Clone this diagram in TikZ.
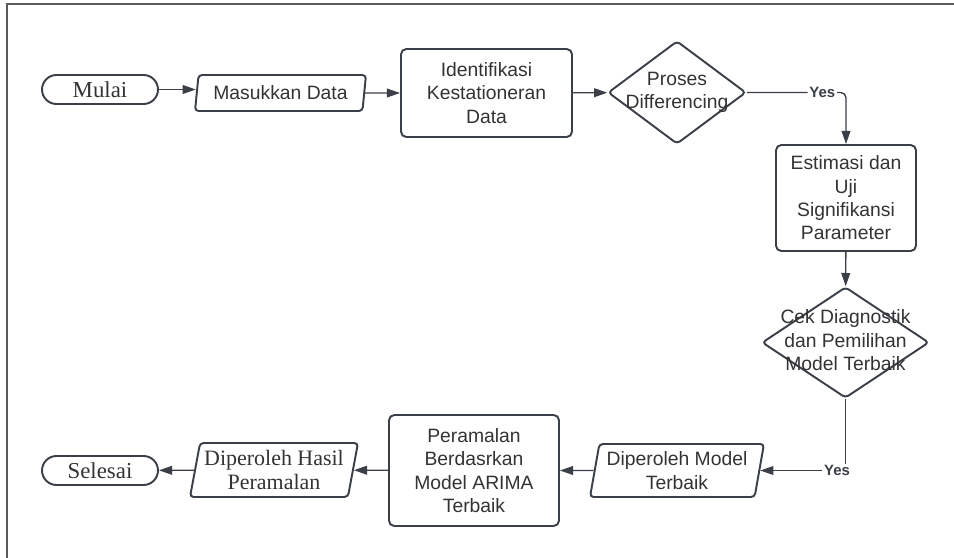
\documentclass[tikz,border=0pt]{standalone}
\usepackage{fontspec}
\setmainfont{Liberation Serif}
\setsansfont{Liberation Sans}
\usetikzlibrary{shapes.geometric,shapes.misc,arrows.meta}
\definecolor{flowline}{RGB}{58,63,72}
\definecolor{flowtext}{RGB}{51,51,51}
\definecolor{framegray}{RGB}{90,90,90}

\begin{document}
\begin{tikzpicture}[x=0.02cm, y=-0.02cm,
  terminal/.style={rounded rectangle, draw=flowline, line width=1.1pt, minimum width=2.32cm, minimum height=0.58cm, inner sep=0pt, text=flowtext, font=\fontsize{13}{14.2}\selectfont},
  inout/.style={trapezium, trapezium left angle=76, trapezium right angle=104, trapezium stretches body, draw=flowline, line width=1.1pt, rounded corners=2pt, inner sep=0pt, align=center, text=flowtext},
  process/.style={rectangle, draw=flowline, line width=1.1pt, rounded corners=3pt, inner sep=0pt, align=center, text=flowtext, font=\sffamily\fontsize{11}{13.3}\selectfont},
  decision/.style={diamond, draw=flowline, line width=1.1pt, rounded corners=2pt, inner sep=0pt, text=flowtext, font=\sffamily\fontsize{11}{13.3}\selectfont},
  arr/.style={draw=flowline, line width=0.8pt, -{Triangle[length=7.5pt,width=5pt]}},
  yes/.style={fill=white, inner sep=1pt, text=flowline, font=\sffamily\bfseries\fontsize{8.5}{10}\selectfont}]

\useasboundingbox (0,0) rectangle (954,558);
% Frame
\draw[framegray, line width=0.8pt] (954,4) -- (7,4) -- (7,558);

% Top row
\node[terminal] (mulai) at (100,89.5) {Mulai};
\node[inout, minimum width=3.42cm, minimum height=0.72cm, font=\sffamily\fontsize{11}{13.3}\selectfont] (masuk) at (280.5,93) {Masukkan Data};
\node[process, minimum width=3.42cm, minimum height=1.76cm] (ident) at (486.5,93) {Identifikasi\\Kestationeran\\Data};
\node[decision, minimum width=2.76cm, minimum height=2.06cm] (proses) at (677,92.5) {\makebox[0pt]{\begin{tabular}{@{}c@{}}Proses\\Differencing\end{tabular}}};

% Right column
\node[process, minimum width=2.8cm, minimum height=2.12cm] (estim) at (846,198) {Estimasi dan\\Uji\\Signifikansi\\Parameter};
\node[decision, minimum width=3.34cm, minimum height=2.22cm] (cek) at (845.5,342.5) {\makebox[0pt]{\begin{tabular}{@{}c@{}}Cek Diagnostik\\dan Pemilihan\\Model Terbaik\end{tabular}}};

% Bottom row
\node[inout, minimum width=3.48cm, minimum height=1.06cm, font=\sffamily\fontsize{11}{13.3}\selectfont] (dmodel) at (677,470.5) {Diperoleh Model\\Terbaik};
\node[process, minimum width=3.4cm, minimum height=2.22cm] (peram) at (474,470.5) {Peramalan\\Berdasrkan\\Model ARIMA\\Terbaik};
\node[inout, minimum width=3.36cm, minimum height=1.08cm, font=\fontsize{12.5}{14.2}\selectfont] (dhasil) at (274,470) {Diperoleh Hasil\\Peramalan};
\node[terminal] (selesai) at (100,470.5) {Selesai};

% Connections
\draw[arr] (mulai.east) -- (mulai.east -| masuk.west);
\draw[arr] (masuk) -- (ident);
\draw[arr] (ident) -- (proses);
\draw[arr, rounded corners=3pt] (proses.east) -| node[yes, pos=0.38] {Yes} (estim.north);
\draw[arr] (estim) -- (cek);
\draw[arr] (cek.south) |- node[yes, pos=0.55] {Yes} (dmodel.east);
\draw[arr] (dmodel) -- (peram);
\draw[arr] (peram) -- (dhasil);
\draw[arr] (dhasil) -- (selesai);
\end{tikzpicture}
\end{document}
